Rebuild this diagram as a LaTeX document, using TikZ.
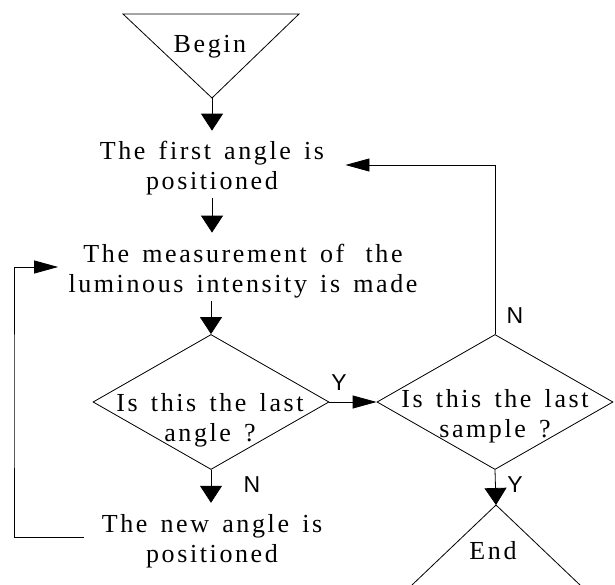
\documentclass[tikz,border=0pt]{standalone}
\usepackage{fontspec}
\setmainfont{Liberation Serif}[LetterSpace=10, WordSpace=1.45]
\newfontfamily\yesnofont{Liberation Sans}
\usetikzlibrary{arrows.meta, shapes.geometric}

\begin{document}
\begin{tikzpicture}[x=1pt, y=-1pt, line width=0.8pt,
    txt/.style={inner sep=0pt, align=center, font=\fontsize{26}{30}\selectfont},
    yesno/.style={inner sep=0pt, font=\yesnofont\fontsize{23}{26}\selectfont},
    decision/.style={diamond, draw, inner sep=0pt, minimum width=236pt, minimum height=135pt},
    vtip/.style={-{Triangle[width=22pt, length=17pt]}},
    htip/.style={-{Triangle[width=13pt, length=24pt]}}]
    \useasboundingbox (0,0) rectangle (615,585);

    % Begin triangle
    \coordinate (bleft) at (123,14);
    \coordinate (bright) at (299,14);
    \coordinate (bapex) at (212,98);
    \draw (bleft) -- (bright) -- (bapex) -- cycle;
    \node[txt] (begin) at (210,47) {Begin};

    % Text steps
    \node[txt] (first) at (212,168) {The first angle is\\positioned};
    \node[txt] (meas) at (243,271) {The measurement of\hspace{8pt} the\\luminous intensity is made};
    \node[txt] (new) at (212,541) {The new angle is\\positioned};

    % Decisions
    \node[decision] (d1) at (211,402) {};
    \node[txt] (d1txt) at (210,420) {Is this the last\\angle ?};
    \node[decision] (d2) at (495,402) {};
    \node[txt] (d2txt) at (495,416) {Is this the last\\sample ?};

    % End triangle (cut by the page)
    \coordinate (eapex) at (496,505);
    \draw (412,585) -- (eapex) -- (580,585);
    \node[txt] (end) at (493,551) {End};

    % Arrows down the main line
    \draw[vtip] (bapex) -- ([yshift=10pt]bapex |- first.north);
    \draw[vtip] ([yshift=-3pt]first.south) -- ([yshift=11pt]first.south |- meas.north);
    \draw[vtip] ([yshift=-3pt]d1.north |- meas.south) -- (d1.north);
    \draw[vtip] (d1.south) -- ([yshift=11pt]d1.south |- new.north);
    \draw[htip] (d1.east) -- (d2.west);
    \draw[vtip] (d2.south) -- (eapex);

    % Loops back
    \coordinate (loopx) at (14,400);
    \draw[htip] ([xshift=-17pt, yshift=4pt]new.west) -| (loopx) |- ([xshift=-10pt, yshift=4pt]meas.west);
    \draw[htip] (d2.north) |- ([xshift=21pt, yshift=3pt]first.east);

    % Y / N labels
    \node[yesno] (y1) at (339,383) {Y};
    \node[yesno] (n1) at (252,485) {N};
    \node[yesno] (n2) at (515,316) {N};
    \node[yesno] (y2) at (515,485) {Y};
\end{tikzpicture}
\end{document}
